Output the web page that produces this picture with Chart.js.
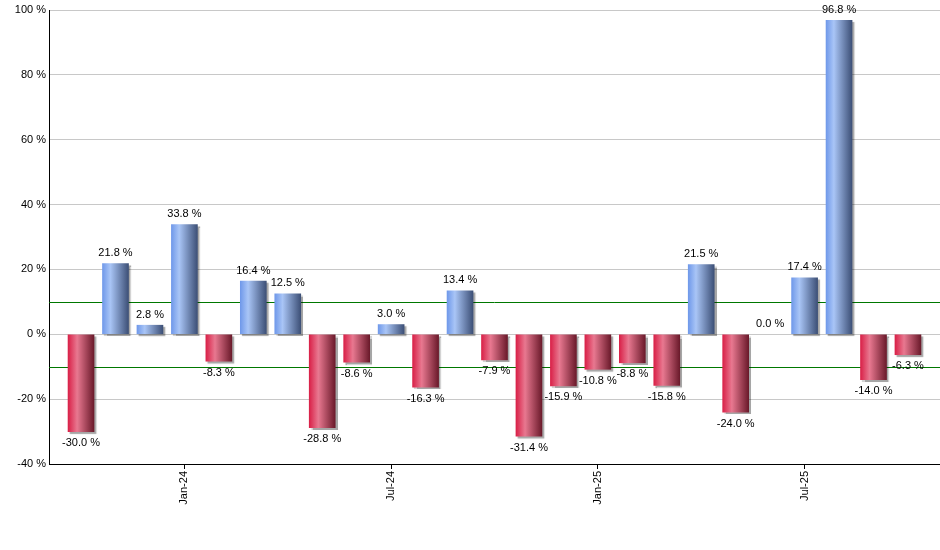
<!DOCTYPE html>
<html>
<head>
<meta charset="utf-8">
<script src="https://cdn.jsdelivr.net/npm/chart.js@4.4.0/dist/chart.umd.min.js"></script>
<style>
  html, body { margin: 0; padding: 0; background: #fff; }
  #wrap { width: 940px; height: 550px; position: relative; }
</style>
</head>
<body>
<div id="wrap"><canvas id="chartBulanan"></canvas></div>
<script>
// data bulanan (Oct-23 .. Oct-25)
const months = ["Oct-23", "Nov-23", "Dec-23", "Jan-24", "Feb-24", "Mar-24", "Apr-24", "May-24", "Jun-24",
  "Jul-24", "Aug-24", "Sep-24", "Oct-24", "Nov-24", "Dec-24", "Jan-25", "Feb-25", "Mar-25", "Apr-25",
  "May-25", "Jun-25", "Jul-25", "Aug-25", "Sep-25", "Oct-25"];
const values = [-30.0, 21.8, 2.8, 33.8, -8.3, 16.4, 12.5, -28.8, -8.6, 3.0, -16.3, 13.4, -7.9,
  -31.4, -15.9, -10.8, -8.8, -15.8, 21.5, -24.0, 0.0, 17.4, 96.8, -14.0, -6.3];
const tickMonths = ["Jan-24", "Jul-24", "Jan-25", "Jul-25"];
const yTicks = [-40, -20, 0, 20, 40, 60, 80, 100];
const refLines = [10, -10];

const FONT = "'Liberation Sans', Arial, sans-serif";
const BAR_W = 26;
const pct = v => v.toFixed(1) + " %";

/* Gradasi batang: biru untuk naik, merah untuk turun */
function barGradient(c) {
  const chart = c.chart;
  const xs = chart.scales.x;
  const v = values[c.dataIndex];
  if (v === 0) return "rgba(0,0,0,0)";
  const up = v > 0;
  if (!xs || !chart.chartArea) return up ? "#7aa0ee" : "#d92a50";
  const cx = xs.getPixelForValue(c.dataIndex);
  const g = chart.ctx.createLinearGradient(cx - BAR_W / 2, 0, cx + BAR_W / 2, 0);
  if (up) {
    g.addColorStop(0, "#7099ea");
    g.addColorStop(0.3, "#a9c5f6");
    g.addColorStop(1, "#3d5077");
  } else {
    g.addColorStop(0, "#d92148");
    g.addColorStop(0.35, "#e87890");
    g.addColorStop(1, "#6b1a2b");
  }
  return g;
}

// garis referensi +10 / -10 di belakang batang
const refLinePlugin = {
  id: "refLines",
  beforeDatasetsDraw(chart) {
    const { ctx, chartArea, scales } = chart;
    refLines.forEach(v => {
      const y = Math.round(scales.y.getPixelForValue(v)) + 0.5;
      ctx.save();
      ctx.strokeStyle = "#007800";
      ctx.lineWidth = 1;
      ctx.beginPath();
      ctx.moveTo(chartArea.left, y);
      ctx.lineTo(chartArea.right, y);
      ctx.stroke();
      ctx.restore();
    });
  }
};

// bayangan tipis di kanan-bawah batang
const shadowPlugin = {
  id: "barShadow",
  beforeDatasetDraw(chart) {
    const ctx = chart.ctx;
    ctx.save();
    ctx.shadowColor = "rgba(0,0,0,0.35)";
    ctx.shadowOffsetX = 2;
    ctx.shadowOffsetY = 2;
    ctx.shadowBlur = 1;
  },
  afterDatasetDraw(chart) {
    chart.ctx.restore();
  }
};

// label nilai di atas / bawah batang
const labelPlugin = {
  id: "valueLabels",
  afterDatasetsDraw(chart) {
    const { ctx } = chart;
    const meta = chart.getDatasetMeta(0);
    ctx.save();
    ctx.font = "11px " + FONT;
    ctx.fillStyle = "#000";
    ctx.textAlign = "center";
    meta.data.forEach((bar, i) => {
      const v = values[i];
      if (v >= 0) {
        ctx.textBaseline = "bottom";
        ctx.fillText(pct(v), bar.x, bar.y - 5);
      } else {
        ctx.textBaseline = "top";
        ctx.fillText(pct(v), bar.x, bar.y + 6);
      }
    });
    ctx.restore();
  }
};

new Chart(document.getElementById("chartBulanan"), {
  type: "bar",
  data: {
    datasets: [{
      data: values.map((v, i) => ({ x: i, y: v })),
      backgroundColor: barGradient,
      borderWidth: 0,
      barThickness: BAR_W
    }]
  },
  options: {
    responsive: true,
    maintainAspectRatio: false,
    animation: false,
    layout: { padding: { top: 10, right: 0, left: 0, bottom: 0 } },
    plugins: {
      legend: { display: false },
      tooltip: { enabled: false }
    },
    scales: {
      x: {
        type: "linear",
        offset: false,
        min: -0.93,
        max: months.length - 1 + 0.93,
        grid: { offset: false, drawOnChartArea: false, drawTicks: true, tickLength: 5, color: "#000" },
        border: { color: "#000", width: 1 },
        afterBuildTicks: s => { s.ticks = tickMonths.map(m => ({ value: months.indexOf(m) })); },
        afterFit: s => { s.height = 86; },
        ticks: {
          autoSkip: false,
          minRotation: 90,
          maxRotation: 90,
          padding: 2,
          color: "#000",
          font: { family: FONT, size: 11 },
          callback: v => months[v]
        }
      },
      y: {
        min: -40,
        max: 100,
        afterBuildTicks: s => { s.ticks = yTicks.map(v => ({ value: v })); },
        afterFit: s => { s.width = 49; },
        grid: { color: "#c8c8c8", drawTicks: false },
        border: { color: "#000", width: 1 },
        ticks: {
          padding: 3,
          color: "#000",
          font: { family: FONT, size: 11 },
          callback: v => v + " %"
        }
      }
    }
  },
  plugins: [refLinePlugin, shadowPlugin, labelPlugin]
});
</script>
</body>
</html>
